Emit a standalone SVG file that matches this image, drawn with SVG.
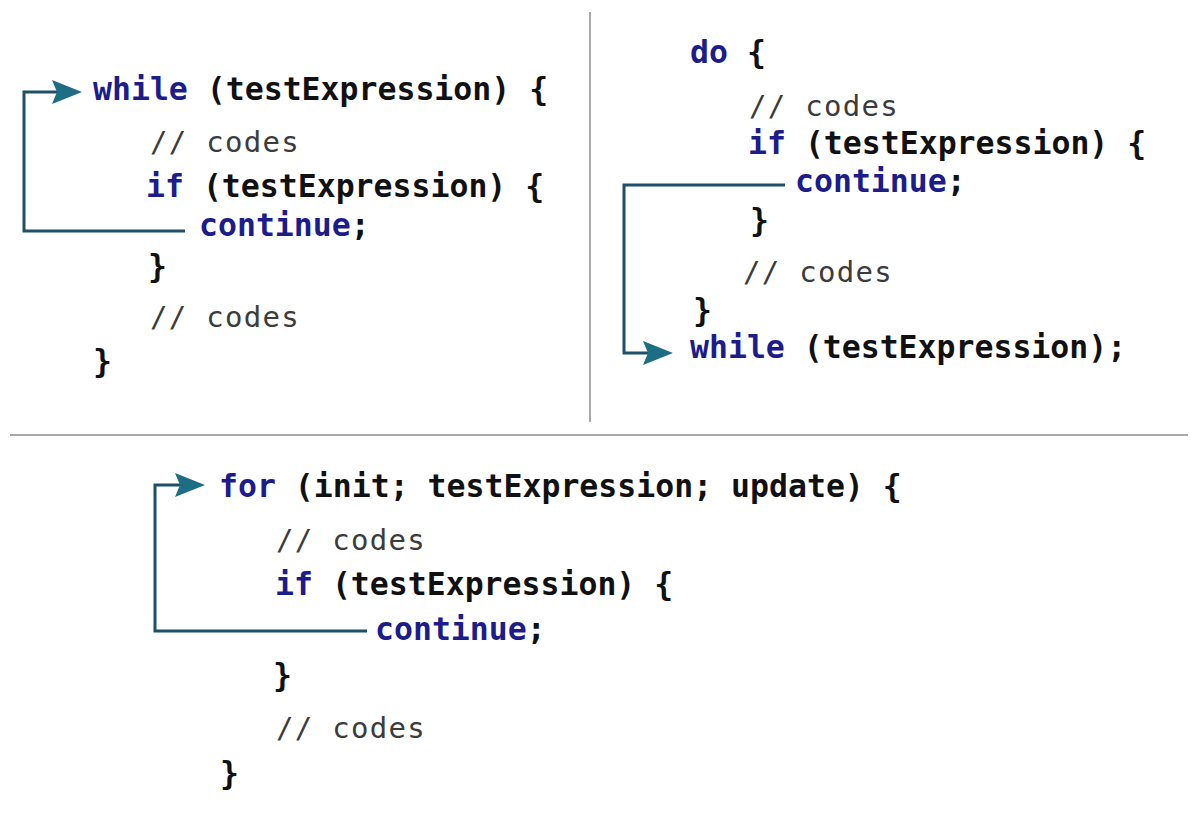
<svg xmlns="http://www.w3.org/2000/svg" width="1200" height="814" viewBox="0 0 1200 814">
<style>
.code{font-family:"DejaVu Sans Mono","Liberation Mono",monospace;font-size:31.5px;font-weight:bold;fill:#111111}
.kw{fill:#1c1c8a}
.cm{font-family:"DejaVu Sans Mono","Liberation Mono",monospace;font-size:29px;font-weight:normal;fill:#3c3c3c;letter-spacing:1.3px}
.link{fill:none;stroke:#1e4f6b;stroke-width:3}
.div{stroke:#8c8c8c;stroke-width:1.5}
</style>
<defs>
<marker id="arrow" markerUnits="userSpaceOnUse" viewBox="0 0 30 24" markerWidth="30" markerHeight="24" refX="5" refY="12" orient="auto">
<path d="M0,0 L30,12 L0,24 L5,12 Z" fill="#1d6d84"/>
</marker>
</defs>
<rect width="1200" height="814" fill="#ffffff"/>
<g id="dividers">
<line class="div" x1="590" y1="12" x2="590" y2="422"/>
<line class="div" x1="10" y1="435" x2="1188" y2="435"/>
</g>
<g id="while-loop">
<text class="code" x="93" y="100"><tspan class="kw">while</tspan> (testExpression) {</text>
<text class="cm" x="150" y="152">// codes</text>
<text class="code" x="146" y="197"><tspan class="kw">if</tspan> (testExpression) {</text>
<text class="code kw" x="199" y="236">continue<tspan fill="#111111">;</tspan></text>
<text class="code" x="148" y="277">}</text>
<text class="cm" x="150" y="327">// codes</text>
<text class="code" x="93" y="372">}</text>
</g>
<g id="do-while-loop">
<text class="code" x="690" y="63"><tspan class="kw">do</tspan> {</text>
<text class="cm" x="749" y="116">// codes</text>
<text class="code" x="748" y="154"><tspan class="kw">if</tspan> (testExpression) {</text>
<text class="code kw" x="795" y="192">continue<tspan fill="#111111">;</tspan></text>
<text class="code" x="750" y="231">}</text>
<text class="cm" x="743" y="282">// codes</text>
<text class="code" x="693" y="321">}</text>
<text class="code" x="690" y="358"><tspan class="kw">while</tspan> (testExpression);</text>
</g>
<g id="for-loop">
<text class="code" x="219" y="497"><tspan class="kw">for</tspan> (init; testExpression; update) {</text>
<text class="cm" x="276" y="550">// codes</text>
<text class="code" x="275" y="595"><tspan class="kw">if</tspan> (testExpression) {</text>
<text class="code kw" x="375" y="640">continue<tspan fill="#111111">;</tspan></text>
<text class="code" x="273" y="686">}</text>
<text class="cm" x="276" y="738">// codes</text>
<text class="code" x="220" y="784">}</text>
</g>
<g id="connectors">
<path class="link" d="M185,231 H24 V92 H57" marker-end="url(#arrow)"/>
<path class="link" d="M785,185 H624 V353 H648" marker-end="url(#arrow)"/>
<path class="link" d="M367,631 H155 V485 H180" marker-end="url(#arrow)"/>
</g>
</svg>
